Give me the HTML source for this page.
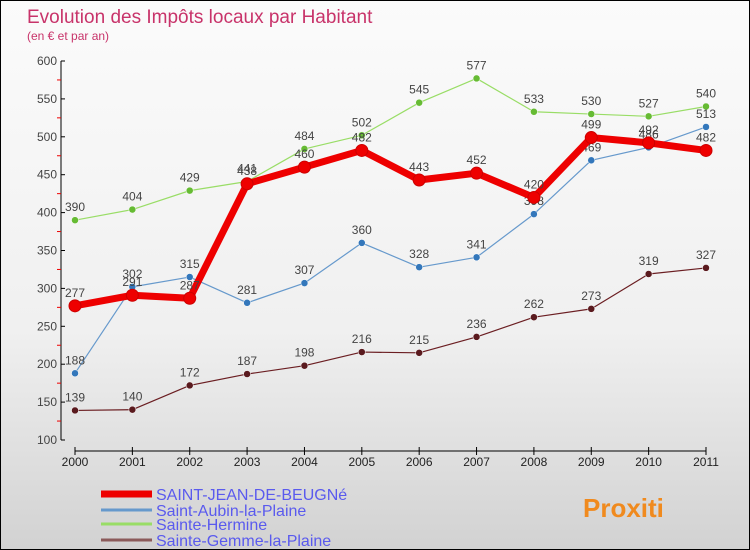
<!DOCTYPE html>
<html><head><meta charset="utf-8"><style>
body{margin:0}
#c{width:748px;height:548px;border:1px solid #000;background:linear-gradient(#fbfbfb,#f0f0f0 60%,#d2d2d2);position:relative;font-family:"Liberation Sans",sans-serif}
</style></head><body>
<div id="c">
<svg id="s" width="748" height="548" xmlns="http://www.w3.org/2000/svg" style="position:absolute;left:0;top:0">
<text x="26" y="22" font-size="19" fill="#c8336a">Evolution des Impôts locaux par Habitant</text>
<text x="26" y="39" font-size="12" fill="#c8336a">(en € et par an)</text>
</svg>
</div>
<script>
const years=[2000,2001,2002,2003,2004,2005,2006,2007,2008,2009,2010,2011];
const yTicks=[100,150,200,250,300,350,400,450,500,550,600];
const stJean=[277,291,287,438,460,482,443,452,420,499,492,482];
const stAubin=[188,302,315,281,307,360,328,341,398,469,486,513];
const stHermine=[390,404,429,441,484,502,545,577,533,530,527,540];
const stGemme=[139,140,172,187,198,216,215,236,262,273,319,327];
const names=['SAINT-JEAN-DE-BEUGNé','Saint-Aubin-la-Plaine','Sainte-Hermine','Sainte-Gemme-la-Plaine'];
const NS='http://www.w3.org/2000/svg';const s=document.getElementById('s');
const X=i=>74+i*(705-74)/(years.length-1);
const Y=v=>439-(v-100)*(439-60)/500;
function mk(t,a,p){const e=document.createElementNS(NS,t);for(const k in a)e.setAttribute(k,a[k]);(p||s).appendChild(e);return e;}
let ax=mk('g',{});


mk('line',{x1:60,y1:Y(600),x2:60,y2:Y(100),stroke:'#000'},ax);
yTicks.forEach(v=>{mk('line',{x1:60,y1:Y(v),x2:64,y2:Y(v),stroke:'#000'},ax);
if(v<600)mk('line',{x1:56,y1:Y(v+25),x2:60,y2:Y(v+25),stroke:'#e00'},ax);
const t=mk('text',{x:56,y:Y(v)+4,'font-size':12,'text-anchor':'end',fill:'#444'},ax);t.textContent=v;

});
let xa=mk('g',{});


mk('line',{x1:X(0),y1:450,x2:X(11),y2:450,stroke:'#000'},xa);
years.forEach((y,i)=>{mk('line',{x1:X(i),y1:446,x2:X(i),y2:454,stroke:'#000'},xa);
const t=mk('text',{x:X(i),y:465,'font-size':12,'text-anchor':'middle',fill:'#222'},xa);t.textContent=y;

});
const series=[[stGemme,'#6b1e22','#5a1a1e',1.2,3.5,'sainte-gemme'],[stHermine,'#99dd66','#66bb33',1.2,3.5,'sainte-hermine'],[stAubin,'#6699cc','#3377bb',1.2,3.5,'saint-aubin'],[stJean,'#ee0000','#ee0000',7,6,'saint-jean']];
series.forEach(([d,c,pc,w,r,n])=>{const g=mk('g',{});


mk('polyline',{points:d.map((v,i)=>X(i)+','+Y(v)).join(' '),fill:'none',stroke:c,'stroke-width':w,'stroke-linejoin':'round'},g);
d.forEach((v,i)=>{const p=mk('circle',{cx:X(i),cy:Y(v),r:r,fill:pc,stroke:w>2?'#cc0000':'#fff','stroke-width':w>2?1:0.5},g);


const t=mk('text',{x:X(i),y:Y(v)-9,'font-size':12,'text-anchor':'middle',fill:'#444'},g);t.textContent=v;

});});
const lc=['#ee0000','#6699cc','#99dd66','#8b5a5a'],lw=[7,3,3,3],ly=[493,509,523,539];
names.forEach((nm,i)=>{const g=mk('g',{});


mk('line',{x1:100,y1:ly[i],x2:151,y2:ly[i],stroke:lc[i],'stroke-width':lw[i]},g);
const t=mk('text',{x:155,y:ly[i]+6,'font-size':16,fill:'#5a5aee'},g);t.textContent=nm;});
const lg=mk('text',{x:582,y:516,'font-size':26,'font-weight':'bold',fill:'#f08a1e'});lg.textContent='Proxiti';


</script>
</body></html>
